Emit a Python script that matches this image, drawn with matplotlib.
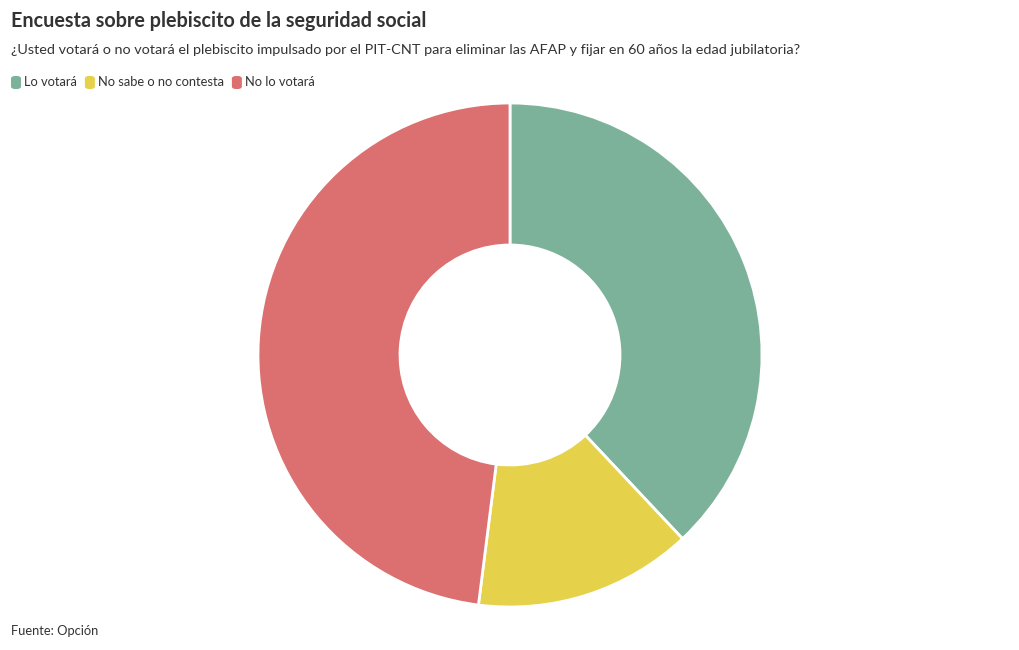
import matplotlib
matplotlib.use("Agg")
import matplotlib.pyplot as plt
from matplotlib.patches import FancyBboxPatch

# data
categories = ["Lo votará", "No sabe o no contesta", "No lo votará"]
values = [38, 14, 48]
colors = ["#7db29a", "#e6d24a", "#dc6f6f"]

title = "Encuesta sobre plebiscito de la seguridad social"
subtitle = ("¿Usted votará o no votará el plebiscito impulsado por el PIT-CNT "
            "para eliminar las AFAP y fijar en 60 años la edad jubilatoria?")
source = "Fuente: Opción"

plt.rcParams['font.family'] = ['Lato', 'DejaVu Sans']

W, H = 1020, 650
fig = plt.figure(figsize=(W / 100, H / 100), dpi=100)
fig.patch.set_facecolor("white")

# donut
cx, cy, r_out, r_in = 510, 355, 252, 110
ax = fig.add_axes([(cx - r_out) / W, 1 - (cy + r_out) / H, 2 * r_out / W, 2 * r_out / H])
ax.pie(values, colors=colors, startangle=90, counterclock=False, radius=1,
       wedgeprops=dict(width=(r_out - r_in) / r_out, edgecolor="white", linewidth=2))
ax.set_xlim(-1, 1)
ax.set_ylim(-1, 1)
ax.axis("off")

# texts
fig.text(11 / W, 1 - 21 / H, title, fontsize=14.2, fontweight="bold", color="#333333", va="center")
fig.text(11 / W, 1 - 50 / H, subtitle, fontsize=10.35, color="#333333", va="center")
fig.text(11 / W, 1 - 631 / H, source, fontsize=9.3, color="#333333", va="center")

# legend
renderer = fig.canvas.get_renderer()
x = 11
for lab, col in zip(categories, colors):
    fig.patches.append(FancyBboxPatch((x / W, 1 - 89 / H), 10 / W, 13 / H,
                                      boxstyle="round,pad=0,rounding_size=0.004",
                                      transform=fig.transFigure, facecolor=col,
                                      edgecolor="none", figure=fig))
    t = fig.text((x + 13) / W, 1 - 82 / H, lab, fontsize=9.3, color="#333333", va="center")
    w = t.get_window_extent(renderer).width
    x = x + 13 + w + 8

fig.savefig("out.png", dpi=100)
